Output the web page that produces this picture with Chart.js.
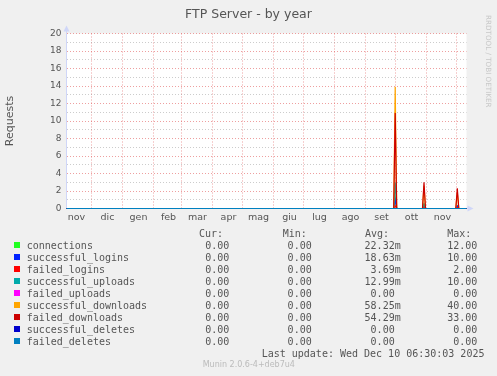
<!DOCTYPE html>
<html>
<head>
<meta charset="utf-8">
<script src="https://cdn.jsdelivr.net/npm/chart.js@4.4.0/dist/chart.umd.min.js"></script>
<style>
body { margin: 0; background: #f0f0f0; }
#wrap { position: relative; width: 497px; height: 376px; overflow: hidden; font-family: "DejaVu Sans", sans-serif; color: #555; }
canvas { position: absolute; left: 0; top: 0; }
.t { position: absolute; white-space: pre; }
.mono { font-family: "DejaVu Sans Mono", monospace; font-size: 10px; line-height: 12px; }
.sw { position: absolute; width: 6px; height: 6px; }
</style>
</head>
<body>
<div id="wrap">
  <canvas id="chart" width="497" height="376"></canvas>
  <div class="t" style="left:0;top:6px;width:497px;text-align:center;font-size:12.5px;line-height:15px;">FTP Server - by year</div>
  <div class="t" style="left:484px;top:15px;writing-mode:vertical-rl;font-size:7.2px;line-height:9px;color:#c8c8c8;">RRDTOOL / TOBI OETIKER</div>
  <div id="legend"></div>
  <div class="t mono" style="left:261.7px;top:347.8px;">Last update: Wed Dec 10 06:30:03 2025</div>
  <div class="t" style="left:202.7px;top:360px;font-size:8px;line-height:10px;color:#bbb;">Munin 2.0.6-4+deb7u4</div>
</div>
<script>
// days since start of the 400 day window (6 Nov 2024)
const dayIndex = [0, 327.2, 328.7, 330.2, 356, 357.5, 359, 389.3, 390.8, 392.3, 400];

const seriesNames = ['connections', 'successful_logins', 'failed_logins', 'successful_uploads', 'failed_uploads',
    'successful_downloads', 'failed_downloads', 'successful_deletes', 'failed_deletes'];
const seriesColors = ['#22ff22', '#0022ff', '#ff0000', '#00aaaa', '#ff00ff', '#ffa500', '#cc0000', '#0000cc', '#0080c0'];

const connections = [0, 0, 1.2, 0, 0, 0.5, 0, 0, 0.3, 0, 0];
const successfulLogins = [0, 0, 1.0, 0, 0, 0.4, 0, 0, 0.3, 0, 0];
const failedLogins = [0, 0, 0.3, 0, 0, 0.2, 0, 0, 0.1, 0, 0];
const successfulUploads = [0, 0, 3.0, 0, 0, 0.5, 0, 0, 0, 0, 0];
const failedUploads = [0, 0, 0, 0, 0, 0, 0, 0, 0, 0, 0];
const successfulDownloads = [0, 0, 13.9, 0, 0, 2.6, 0, 0, 1.8, 0, 0];
const failedDownloads = [0, 0, 10.9, 0, 0, 3.0, 0, 0, 2.3, 0, 0];
const successfulDeletes = [0, 0, 0, 0, 0, 0, 0, 0, 0, 0, 0];
const failedDeletes = [0, 0, 0, 0, 0, 0, 0, 0, 0, 0, 0];
const seriesValues = [connections, successfulLogins, failedLogins, successfulUploads, failedUploads,
    successfulDownloads, failedDownloads, successfulDeletes, failedDeletes];

const monthStarts = [25, 56, 87, 115, 146, 176, 207, 237, 268, 299, 329, 360, 390];
const monthMids = [10, 41, 72, 102, 131, 162, 192, 223, 253, 284, 315, 345, 376];
const monthLabels = ['nov', 'dic', 'gen', 'feb', 'mar', 'apr', 'mag', 'giu', 'lug', 'ago', 'set', 'ott', 'nov'];

const curValues = ['0.00', '0.00', '0.00', '0.00', '0.00', '0.00', '0.00', '0.00', '0.00'];
const minValues = ['0.00', '0.00', '0.00', '0.00', '0.00', '0.00', '0.00', '0.00', '0.00'];
const avgValues = ['22.32m', '18.63m', '3.69m', '12.99m', '0.00 ', '58.25m', '54.29m', '0.00 ', '0.00 '];
const maxValues = ['12.00', '10.00', '2.00', '10.00', '0.00', '40.00', '33.00', '0.00', '0.00'];

// legend table
const legend = document.getElementById('legend');
const addText = (txt, css) => {
    const d = document.createElement('div');
    d.className = 't mono';
    d.textContent = txt;
    d.style.cssText += css;
    legend.appendChild(d);
};
addText('Cur:', 'left:199px;top:227.8px;');
addText('Min:', 'left:282.7px;top:227.8px;');
addText('Avg:', 'left:365px;top:227.8px;');
addText('Max:', 'left:447.3px;top:227.8px;');
seriesNames.forEach((name, i) => {
    const cy = 245.8 + i * 12;
    const sw = document.createElement('div');
    sw.className = 'sw';
    sw.style.cssText = `left:14px;top:${cy - 3.5}px;background:${seriesColors[i]};`;
    legend.appendChild(sw);
    addText(name, `left:26.7px;top:${cy - 6}px;`);
    addText(curValues[i], `right:${497 - 229.3}px;top:${cy - 6}px;`);
    addText(minValues[i], `right:${497 - 311.7}px;top:${cy - 6}px;`);
    addText(avgValues[i], `right:${497 - 400.7}px;top:${cy - 6}px;`);
    addText(maxValues[i], `right:${497 - 477.3}px;top:${cy - 6}px;`);
});

const frame = {
    id: 'frame',
    beforeDraw(chart) {
        const {ctx, chartArea: a} = chart;
        ctx.save();
        ctx.fillStyle = '#ffffff';
        ctx.fillRect(a.left, a.top, a.right - a.left, a.bottom - a.top);
        ctx.restore();
    },
    beforeDatasetsDraw(chart) {
        const {ctx, chartArea: a} = chart;
        const axis = '#cfd6f8';
        ctx.save();
        ctx.strokeStyle = axis;
        ctx.fillStyle = axis;
        ctx.lineWidth = 1;
        ctx.beginPath();
        ctx.moveTo(a.left, a.bottom);
        ctx.lineTo(a.left, a.top - 4);
        ctx.moveTo(a.left, a.bottom);
        ctx.lineTo(a.right + 2, a.bottom);
        ctx.stroke();
        ctx.beginPath();
        ctx.moveTo(a.left - 3, a.top - 2);
        ctx.lineTo(a.left + 3, a.top - 2);
        ctx.lineTo(a.left, a.top - 8);
        ctx.closePath();
        ctx.fill();
        ctx.beginPath();
        ctx.moveTo(a.right + 1, a.bottom - 3);
        ctx.lineTo(a.right + 1, a.bottom + 3);
        ctx.lineTo(a.right + 7, a.bottom);
        ctx.closePath();
        ctx.fill();
        ctx.restore();
    }
};

const majorGrid = 'rgba(224, 80, 80, 0.55)';
const minorGrid = 'rgba(128, 128, 128, 0.4)';

new Chart(document.getElementById('chart'), {
    type: 'line',
    data: {
        datasets: seriesNames.map((name, i) => ({
            label: name,
            data: dayIndex.map((d, k) => ({x: d, y: seriesValues[i][k]})),
            borderColor: seriesColors[i],
            backgroundColor: seriesColors[i],
            borderWidth: 1.2,
            pointRadius: 0,
            tension: 0,
            clip: false,
            order: seriesNames.length - 1 - i,
        }))
    },
    options: {
        responsive: false,
        animation: false,
        events: [],
        layout: {padding: {top: 33.5, right: 30.5, bottom: 147.5, left: 0}},
        plugins: {legend: {display: false}, tooltip: {enabled: false}, title: {display: false}},
        scales: {
            x: {
                type: 'linear', position: 'bottom', min: 0, max: 400,
                afterBuildTicks: s => { s.ticks = monthStarts.map(v => ({value: v})); },
                afterFit: s => { s.height = 0; },
                ticks: {display: false},
                grid: {color: majorGrid, lineWidth: 1, drawTicks: false},
                border: {display: false, dash: [1, 2]},
            },
            x2: {
                type: 'linear', position: 'bottom', min: 0, max: 400,
                afterBuildTicks: s => { s.ticks = monthMids.map(v => ({value: v})); },
                afterFit: s => { s.height = 20; },
                ticks: {
                    autoSkip: false, maxRotation: 0, padding: 3.5, color: '#555',
                    font: {family: 'DejaVu Sans', size: 9.5},
                    callback: (v, i) => monthLabels[i],
                },
                grid: {display: false, drawTicks: false},
                border: {display: false},
            },
            y: {
                min: 0, max: 20,
                afterFit: s => { s.width = 66.5; },
                ticks: {
                    stepSize: 1, autoSkip: false, padding: 5, color: '#555',
                    font: {family: 'DejaVu Sans', size: 9},
                    callback: v => (v % 2 ? '' : v),
                },
                grid: {
                    drawTicks: false, lineWidth: 1,
                    color: c => (c.tick && c.tick.value % 2 ? minorGrid : majorGrid),
                },
                border: {display: false, dash: [1, 2]},
                title: {
                    display: true, text: 'Requests', color: '#555',
                    font: {family: 'DejaVu Sans', size: 11}, padding: {top: 4, bottom: 0},
                },
            },
        },
    },
    plugins: [frame],
});
</script>
</body>
</html>
